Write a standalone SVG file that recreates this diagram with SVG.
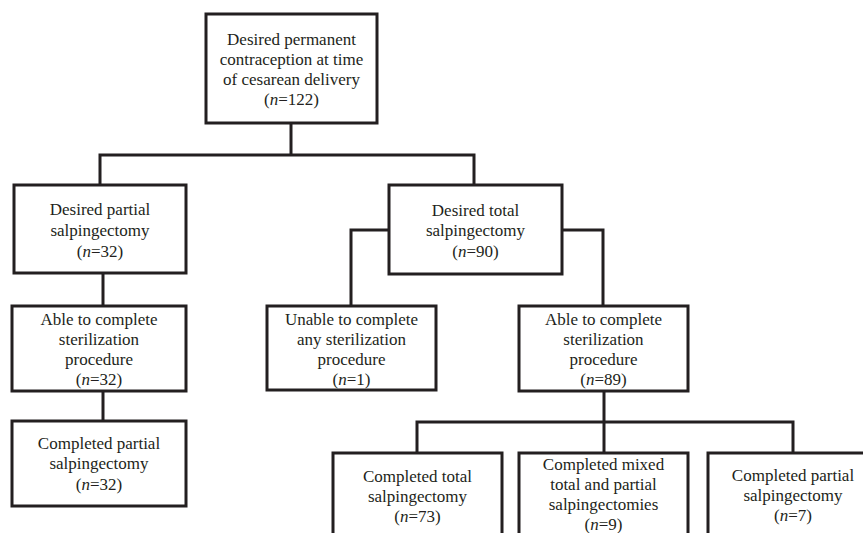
<svg xmlns="http://www.w3.org/2000/svg" width="863" height="533" viewBox="0 0 863 533">
<style>
.box{fill:#fff;stroke:#231f20;stroke-width:3}
.ln{fill:none;stroke:#231f20;stroke-width:3}
text{font-family:"Liberation Serif","Times New Roman",serif;font-size:17px;fill:#231f20;text-anchor:middle}
.i{font-style:italic}
</style>
<rect width="863" height="533" fill="#fff"/>
<g id="connectors">
<polyline class="ln" points="291,123 291,155"/>
<polyline class="ln" points="100,185 100,155 474,155 474,185"/>
<polyline class="ln" points="103,273 103,306"/>
<polyline class="ln" points="389,230 351,230 351,306"/>
<polyline class="ln" points="562,230 603,230 603,306"/>
<polyline class="ln" points="103,391 103,421"/>
<polyline class="ln" points="604,391 604,453"/>
<polyline class="ln" points="417,453 417,422 793,422 793,453"/>
</g>
<g id="n-root">
<rect class="box" x="206" y="14" width="171" height="109"/>
<text x="291.5" y="45">Desired permanent</text>
<text x="291.5" y="65">contraception at time</text>
<text x="291.5" y="85">of cesarean delivery</text>
<text x="291.5" y="105">(<tspan class="i">n</tspan>=122)</text>
</g>
<g id="n-desired-partial">
<rect class="box" x="14" y="185" width="172" height="88"/>
<text x="100" y="215">Desired partial</text>
<text x="100" y="236">salpingectomy</text>
<text x="100" y="257">(<tspan class="i">n</tspan>=32)</text>
</g>
<g id="n-desired-total">
<rect class="box" x="389" y="185" width="173" height="89"/>
<text x="475.5" y="216">Desired total</text>
<text x="475.5" y="236">salpingectomy</text>
<text x="475.5" y="257">(<tspan class="i">n</tspan>=90)</text>
</g>
<g id="n-able-left">
<rect class="box" x="12" y="306" width="174" height="85"/>
<text x="99" y="325">Able to complete</text>
<text x="99" y="345">sterilization</text>
<text x="99" y="365">procedure</text>
<text x="99" y="385">(<tspan class="i">n</tspan>=32)</text>
</g>
<g id="n-unable">
<rect class="box" x="267" y="306" width="169" height="84"/>
<text x="351.5" y="325">Unable to complete</text>
<text x="351.5" y="345">any sterilization</text>
<text x="351.5" y="365">procedure</text>
<text x="351.5" y="385">(<tspan class="i">n</tspan>=1)</text>
</g>
<g id="n-able-right">
<rect class="box" x="519" y="306" width="169" height="85"/>
<text x="603.5" y="325">Able to complete</text>
<text x="603.5" y="345">sterilization</text>
<text x="603.5" y="365">procedure</text>
<text x="603.5" y="385">(<tspan class="i">n</tspan>=89)</text>
</g>
<g id="n-completed-partial-left">
<rect class="box" x="12" y="421" width="174" height="85"/>
<text x="99" y="449">Completed partial</text>
<text x="99" y="469">salpingectomy</text>
<text x="99" y="490">(<tspan class="i">n</tspan>=32)</text>
</g>
<g id="n-completed-total">
<rect class="box" x="333" y="453" width="169" height="100"/>
<text x="417.5" y="482">Completed total</text>
<text x="417.5" y="502">salpingectomy</text>
<text x="417.5" y="522">(<tspan class="i">n</tspan>=73)</text>
</g>
<g id="n-completed-mixed">
<rect class="box" x="519" y="453" width="169" height="100"/>
<text x="603.5" y="470">Completed mixed</text>
<text x="603.5" y="490">total and partial</text>
<text x="603.5" y="510">salpingectomies</text>
<text x="603.5" y="530">(<tspan class="i">n</tspan>=9)</text>
</g>
<g id="n-completed-partial-right">
<rect class="box" x="708" y="453" width="170" height="100"/>
<text x="793" y="481">Completed partial</text>
<text x="793" y="501">salpingectomy</text>
<text x="793" y="521">(<tspan class="i">n</tspan>=7)</text>
</g>
</svg>
